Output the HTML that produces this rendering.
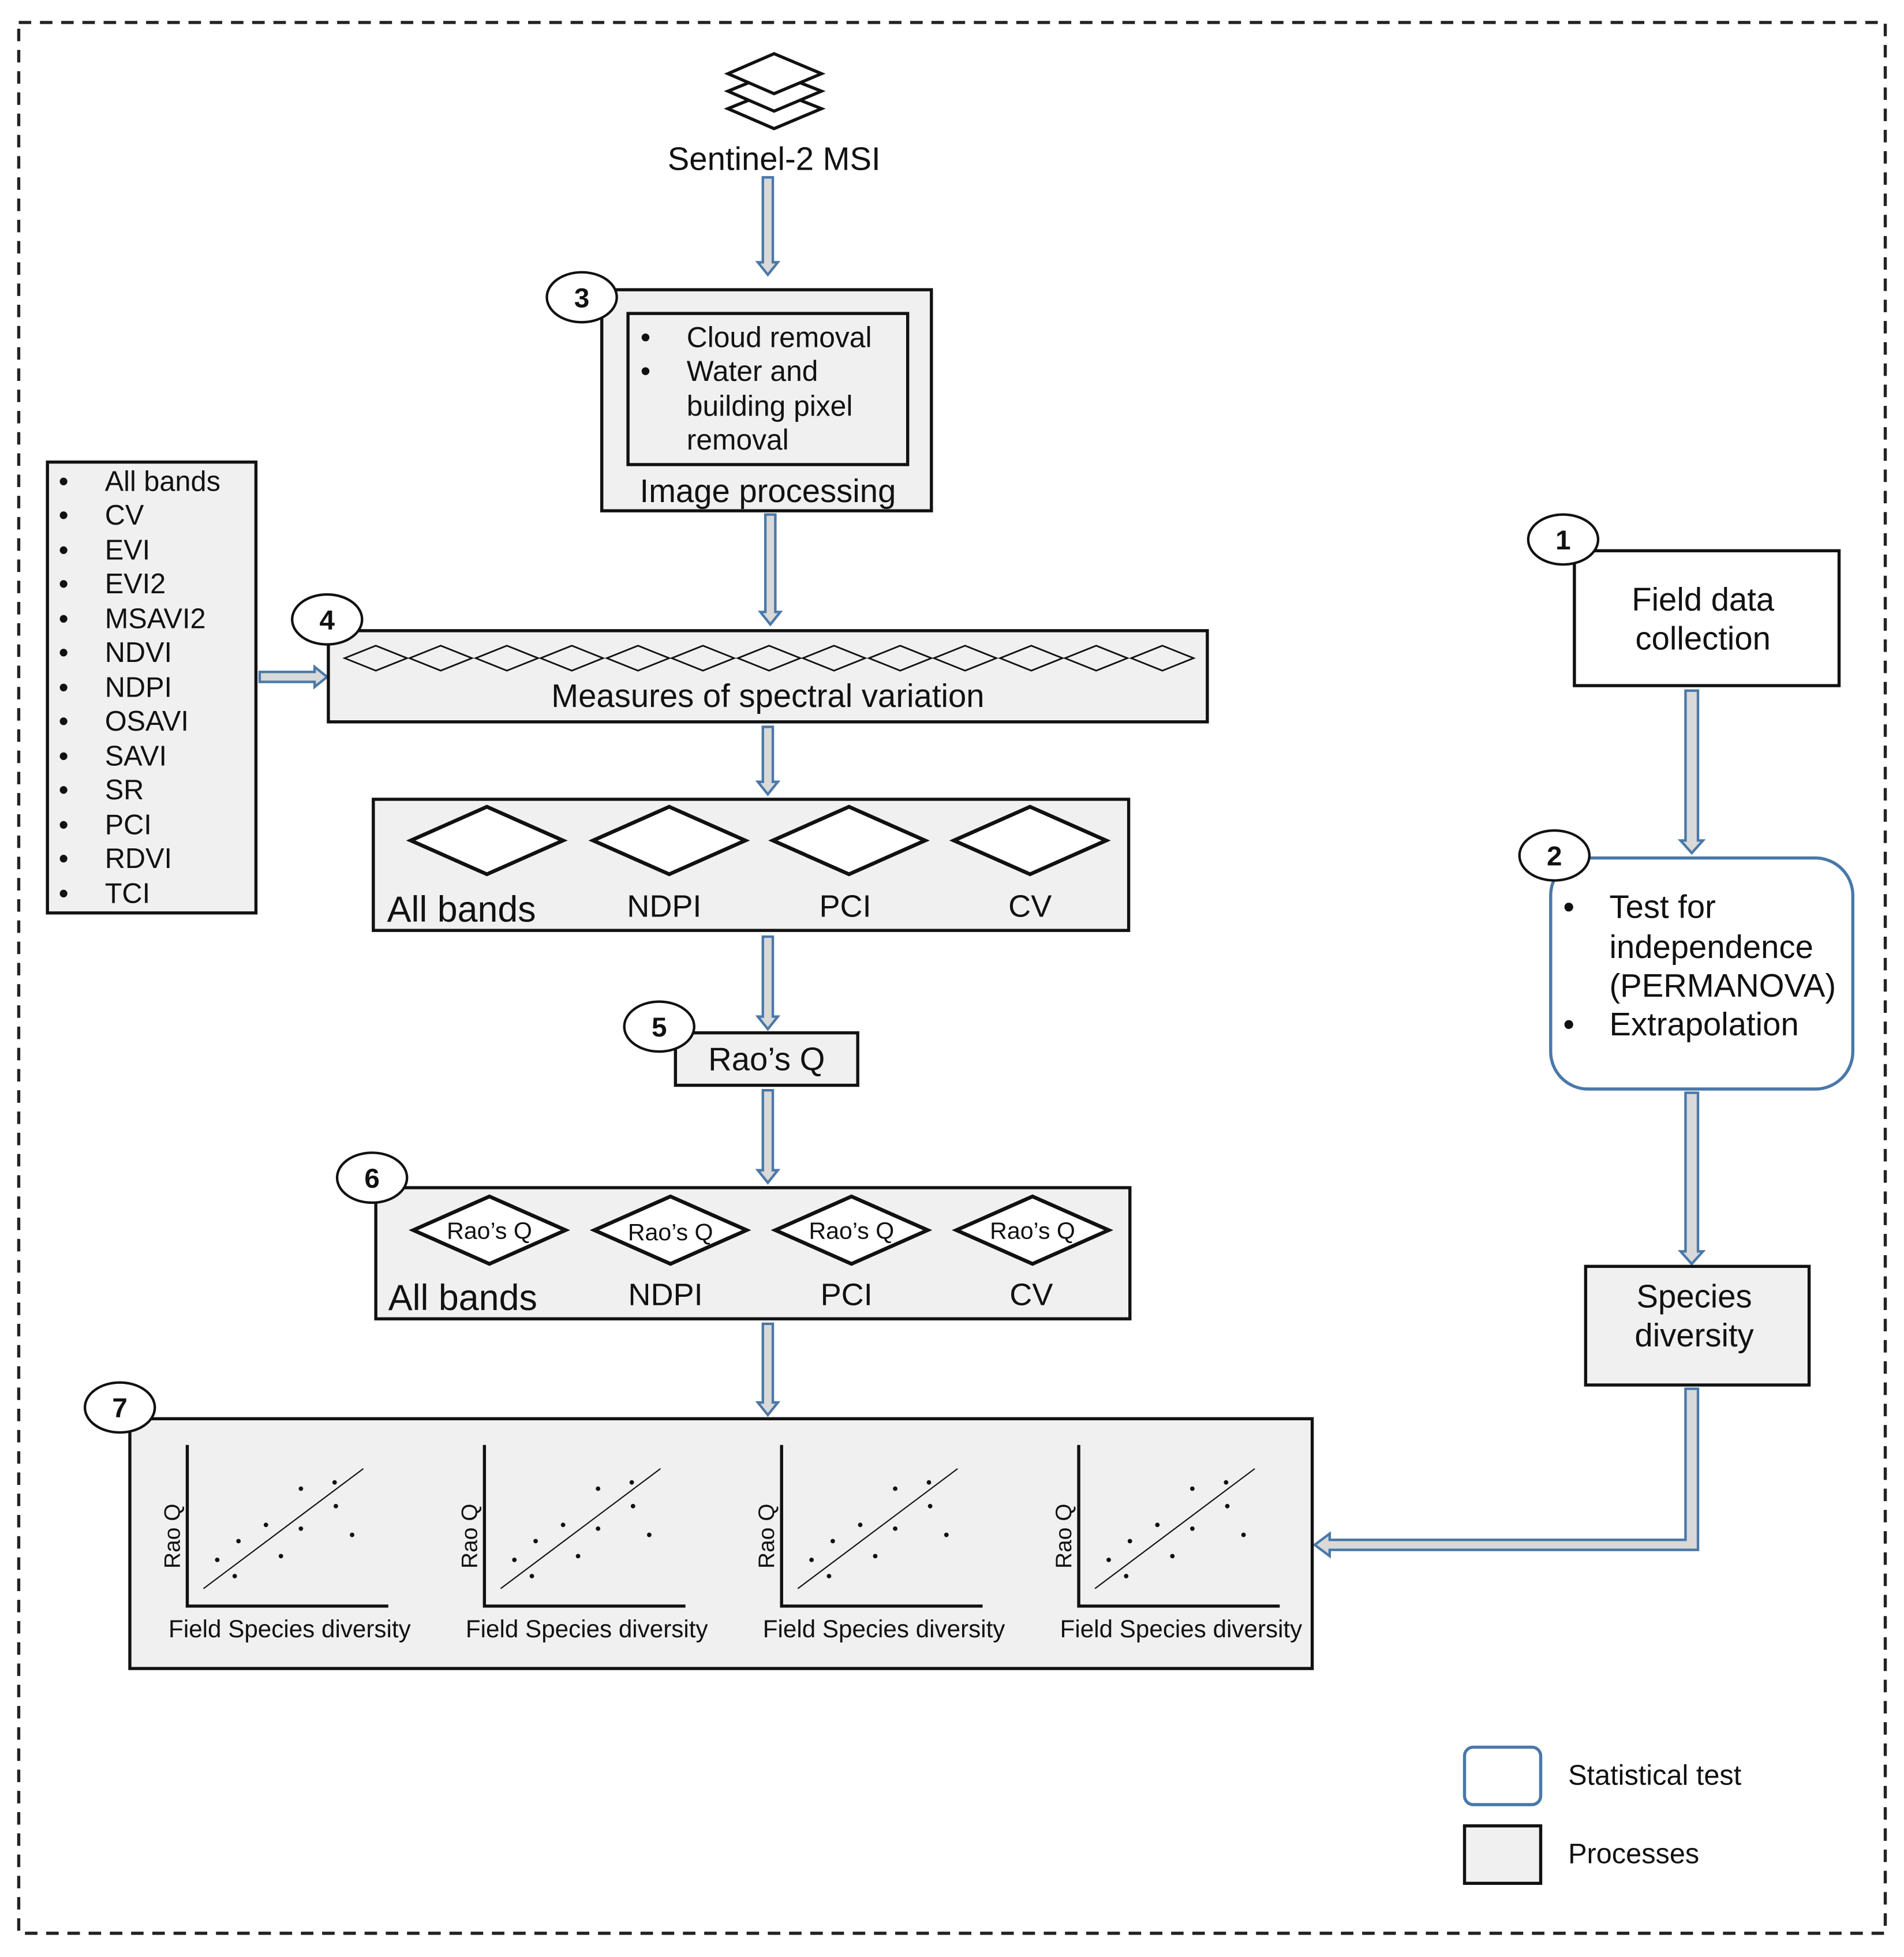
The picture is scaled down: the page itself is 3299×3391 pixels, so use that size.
<!DOCTYPE html>
<html><head><meta charset="utf-8"><style>
html,body{margin:0;padding:0;background:#fff}
svg{display:block}
text{font-family:"Liberation Sans",Arial,sans-serif;fill:#111}
</style></head><body>
<svg width="3299" height="3391" viewBox="0 0 1525 1567" preserveAspectRatio="none" xmlns="http://www.w3.org/2000/svg">
<defs>
<g id="plot">
<polyline points="150,1157 150,1286 311,1286" fill="none" stroke="#111" stroke-width="2.5"/>
<line x1="163" y1="1272" x2="291" y2="1176" stroke="#111" stroke-width="1"/>
<g fill="#111"><circle cx="174" cy="1249" r="1.8"/><circle cx="188" cy="1262" r="1.8"/><circle cx="191" cy="1234" r="1.8"/><circle cx="213" cy="1221" r="1.8"/><circle cx="225" cy="1246" r="1.8"/><circle cx="241" cy="1192" r="1.8"/><circle cx="241" cy="1224" r="1.8"/><circle cx="268" cy="1187" r="1.8"/><circle cx="269" cy="1206" r="1.8"/><circle cx="282" cy="1229" r="1.8"/></g>
</g>
<polygon id="sd" points="-25,0 0,-10 25,0 0,10" fill="none" stroke="#111" stroke-width="1.3"/>
<polygon id="bd" points="-61,0 0,-27 61,0 0,27" fill="#fff" stroke="#111" stroke-width="3"/>
</defs>
<rect x="15" y="18" width="1495" height="1530" fill="none" stroke="#222" stroke-width="2.5" stroke-dasharray="10,7"/>

<g fill="#fff" stroke="#111" stroke-width="2.5">
<polygon points="583,87 620,72 658,87 620,103"/>
<polygon points="583,73 620,58 658,73 620,89"/>
<polygon points="583,59 620,43 658,59 620,75"/>
</g>
<text x="620" y="136" font-size="26" text-anchor="middle">Sentinel-2 MSI</text>

<g fill="#d9d9d9" stroke="#4a78a8" stroke-width="2">
<polygon points="611,142 619,142 619,210 623,210 615,220 607,210 611,210"/>
<polygon points="613,412 621,412 621,490 625,490 617,500 609,490 613,490"/>
<polygon points="611,582 619,582 619,626 623,626 615,636 607,626 611,626"/>
<polygon points="611,750 619,750 619,814 623,814 615,824 607,814 611,814"/>
<polygon points="611,873 619,873 619,937 623,937 615,947 607,937 611,937"/>
<polygon points="611,1060 619,1060 619,1123 623,1123 615,1133 607,1123 611,1123"/>
<polygon points="1350,553 1360,553 1360,673 1364,673 1355,683 1346,673 1350,673"/>
<polygon points="1350,875 1360,875 1360,1002 1364,1002 1355,1012 1346,1002 1350,1002"/>
<polygon points="208,538 252,538 252,534 262,542 252,550 252,546 208,546"/>
<polygon points="1350,1112 1360,1112 1360,1241 1065,1241 1065,1246 1053,1237 1065,1228 1065,1233 1350,1233"/>
</g>

<rect x="482" y="232" width="264" height="177" fill="#f0f0f0" stroke="#111" stroke-width="2.5"/>
<rect x="503" y="251" width="224" height="121" fill="#f0f0f0" stroke="#111" stroke-width="2.5"/>
<g font-size="23"><text x="513" y="278">•</text><text x="550" y="278">Cloud removal</text>
<text x="513" y="305">•</text><text x="550" y="305">Water and</text>
<text x="550" y="333">building pixel</text><text x="550" y="360">removal</text></g>
<text x="615" y="402" font-size="26" text-anchor="middle">Image processing</text>

<rect x="38" y="370" width="167" height="361" fill="#f0f0f0" stroke="#111" stroke-width="2.5"/>
<g font-size="22.5">
<text x="47" y="393">•</text><text x="84" y="393">All bands</text>
<text x="47" y="420">•</text><text x="84" y="420">CV</text>
<text x="47" y="448">•</text><text x="84" y="448">EVI</text>
<text x="47" y="475">•</text><text x="84" y="475">EVI2</text>
<text x="47" y="503">•</text><text x="84" y="503">MSAVI2</text>
<text x="47" y="530">•</text><text x="84" y="530">NDVI</text>
<text x="47" y="558">•</text><text x="84" y="558">NDPI</text>
<text x="47" y="585">•</text><text x="84" y="585">OSAVI</text>
<text x="47" y="613">•</text><text x="84" y="613">SAVI</text>
<text x="47" y="640">•</text><text x="84" y="640">SR</text>
<text x="47" y="668">•</text><text x="84" y="668">PCI</text>
<text x="47" y="695">•</text><text x="84" y="695">RDVI</text>
<text x="47" y="723">•</text><text x="84" y="723">TCI</text>
</g>

<rect x="263" y="505" width="704" height="73" fill="#f0f0f0" stroke="#111" stroke-width="2.5"/>
<g transform="translate(0,527)">
<use href="#sd" x="301"/><use href="#sd" x="353"/><use href="#sd" x="406"/><use href="#sd" x="458"/><use href="#sd" x="511"/><use href="#sd" x="563"/><use href="#sd" x="616"/><use href="#sd" x="668"/><use href="#sd" x="721"/><use href="#sd" x="773"/><use href="#sd" x="826"/><use href="#sd" x="878"/><use href="#sd" x="931"/>
</g>
<text x="615" y="566" font-size="26" text-anchor="middle">Measures of spectral variation</text>

<rect x="299" y="640" width="605" height="105" fill="#f0f0f0" stroke="#111" stroke-width="2.5"/>
<use href="#bd" x="390" y="673"/><use href="#bd" x="536" y="673"/><use href="#bd" x="680" y="673"/><use href="#bd" x="825" y="673"/>
<text x="310" y="738" font-size="29">All bands</text>
<g font-size="25" text-anchor="middle"><text x="532" y="734">NDPI</text><text x="677" y="734">PCI</text><text x="825" y="734">CV</text></g>

<rect x="541" y="827" width="146" height="42" fill="#f0f0f0" stroke="#111" stroke-width="2.5"/>
<text x="614" y="857" font-size="26" text-anchor="middle">Rao’s Q</text>

<rect x="301" y="951" width="604" height="105" fill="#f0f0f0" stroke="#111" stroke-width="2.5"/>
<use href="#bd" x="392" y="985"/><use href="#bd" x="537" y="985"/><use href="#bd" x="682" y="985"/><use href="#bd" x="827" y="985"/>
<g font-size="19" text-anchor="middle"><text x="392" y="992">Rao’s Q</text><text x="537" y="993">Rao’s Q</text><text x="682" y="992">Rao’s Q</text><text x="827" y="992">Rao’s Q</text></g>
<text x="311" y="1049" font-size="29">All bands</text>
<g font-size="25" text-anchor="middle"><text x="533" y="1045">NDPI</text><text x="678" y="1045">PCI</text><text x="826" y="1045">CV</text></g>

<rect x="104" y="1136" width="947" height="200" fill="#f0f0f0" stroke="#111" stroke-width="2.5"/>
<use href="#plot"/><use href="#plot" x="238"/><use href="#plot" x="476"/><use href="#plot" x="714"/>
<g font-size="18">
<text transform="translate(144,1256) rotate(-90)">Rao Q</text>
<text transform="translate(382,1256) rotate(-90)">Rao Q</text>
<text transform="translate(620,1256) rotate(-90)">Rao Q</text>
<text transform="translate(858,1256) rotate(-90)">Rao Q</text>
</g>
<g font-size="19.5" text-anchor="middle">
<text x="232" y="1311">Field Species diversity</text><text x="470" y="1311">Field Species diversity</text><text x="708" y="1311">Field Species diversity</text><text x="946" y="1311">Field Species diversity</text>
</g>

<rect x="1261" y="441" width="212" height="108" fill="#fff" stroke="#111" stroke-width="2.5"/>
<g font-size="26" text-anchor="middle"><text x="1364" y="489">Field data</text><text x="1364" y="520">collection</text></g>
<rect x="1242" y="687" width="242" height="185" rx="30" fill="#fff" stroke="#4a78a8" stroke-width="2.5"/>
<g font-size="26"><text x="1252" y="735">•</text><text x="1289" y="735">Test for</text>
<text x="1289" y="767">independence</text><text x="1289" y="798">(PERMANOVA)</text>
<text x="1252" y="829">•</text><text x="1289" y="829">Extrapolation</text></g>
<rect x="1270" y="1014" width="179" height="95" fill="#f0f0f0" stroke="#111" stroke-width="2.5"/>
<g font-size="26" text-anchor="middle"><text x="1357" y="1047">Species</text><text x="1357" y="1078">diversity</text></g>

<g fill="#fff" stroke="#111" stroke-width="2">
<ellipse cx="466" cy="238" rx="28" ry="20"/>
<ellipse cx="262" cy="496" rx="28" ry="20"/>
<ellipse cx="528" cy="822" rx="28" ry="20"/>
<ellipse cx="298" cy="943" rx="28" ry="20"/>
<ellipse cx="96" cy="1127" rx="28" ry="20"/>
<ellipse cx="1252" cy="432" rx="28" ry="20"/>
<ellipse cx="1245" cy="685" rx="28" ry="20"/>
</g>
<g font-size="22" font-weight="bold" text-anchor="middle">
<text x="466" y="246">3</text><text x="262" y="504">4</text><text x="528" y="830">5</text><text x="298" y="951">6</text><text x="96" y="1135">7</text><text x="1252" y="440">1</text><text x="1245" y="693">2</text>
</g>

<rect x="1173" y="1399" width="61" height="46" rx="7" fill="#fff" stroke="#4a78a8" stroke-width="2.5"/>
<text x="1256" y="1429" font-size="22.5">Statistical test</text>
<rect x="1173" y="1462" width="61" height="46" fill="#f0f0f0" stroke="#111" stroke-width="2.5"/>
<text x="1256" y="1492" font-size="22.5">Processes</text>
</svg>
</body></html>
